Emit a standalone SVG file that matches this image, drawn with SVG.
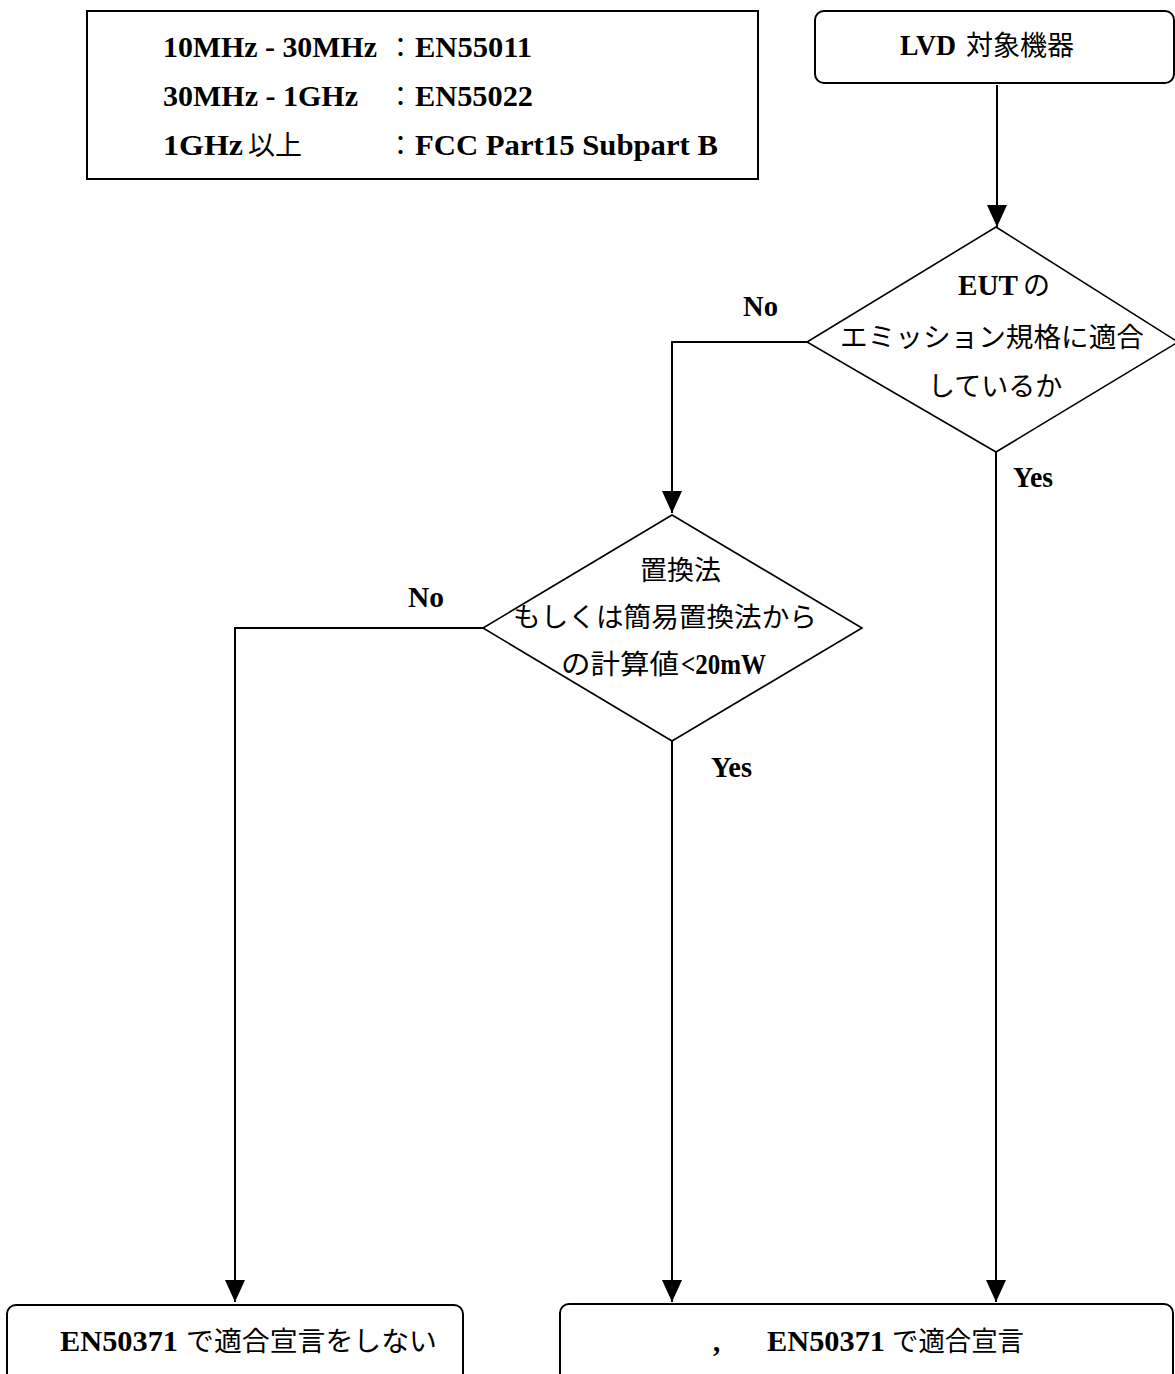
<svg xmlns="http://www.w3.org/2000/svg" width="1175" height="1374" viewBox="0 0 1175 1374">
<style>
.lat{font-family:"Liberation Serif","Noto Sans CJK JP",serif;font-weight:bold;font-size:29px;fill:#000}
.col{font-family:"Noto Sans CJK JP",sans-serif;font-weight:normal;font-size:27px;fill:#000}
.jp{font-family:"Noto Sans CJK JP","Noto Sans CJK SC",sans-serif;font-weight:normal;font-size:27px;fill:#000}
.box{fill:#fff;stroke:#000;stroke-width:2}
.dia{fill:#fff;stroke:#000;stroke-width:1.6}
.conn{fill:none;stroke:#000;stroke-width:2}
</style>
<defs>
<marker id="arr" markerUnits="userSpaceOnUse" viewBox="0 0 22 20" refX="22" refY="10" markerWidth="22" markerHeight="20" orient="auto">
<path d="M0,0 L22,10 L0,20 z" fill="#000"/>
</marker>
</defs>
<rect width="1175" height="1374" fill="#fff"/>

<g id="connectors">
<path class="conn" d="M997,85 V227" marker-end="url(#arr)"/>
<path class="conn" d="M807,342 H672 V513" marker-end="url(#arr)"/>
<path class="conn" d="M996,452 V1302" marker-end="url(#arr)"/>
<path class="conn" d="M483,628 H235 V1302" marker-end="url(#arr)"/>
<path class="conn" d="M672,741 V1302" marker-end="url(#arr)"/>
</g>

<g id="legend">
<rect class="box" x="87" y="11" width="671" height="168"/>
<text class="lat" x="163" y="57" textLength="214" lengthAdjust="spacingAndGlyphs">10MHz - 30MHz</text>
<text class="col" x="387" y="57">：</text>
<text class="lat" x="415" y="57" textLength="117" lengthAdjust="spacingAndGlyphs">EN55011</text>
<text class="lat" x="163" y="106" textLength="195" lengthAdjust="spacingAndGlyphs">30MHz - 1GHz</text>
<text class="col" x="387" y="106">：</text>
<text class="lat" x="415" y="106" textLength="118" lengthAdjust="spacingAndGlyphs">EN55022</text>
<text class="lat" x="163" y="155" textLength="80" lengthAdjust="spacingAndGlyphs">1GHz</text>
<text class="jp" x="248" y="155">以上</text>
<text class="col" x="387" y="155">：</text>
<text class="lat" x="415" y="155" textLength="303" lengthAdjust="spacingAndGlyphs">FCC Part15 Subpart B</text>
</g>

<g id="lvd">
<rect class="box" x="815" y="11" width="359" height="72" rx="9"/>
<text class="lat" x="900" y="55" textLength="56" lengthAdjust="spacingAndGlyphs">LVD</text>
<text class="jp" x="966" y="55">対象機器</text>
</g>

<g id="decision1">
<polygon class="dia" points="996,227 1178,342 996,452 807,342"/>
<text class="lat" x="958" y="295" textLength="60" lengthAdjust="spacingAndGlyphs">EUT</text>
<text class="jp" x="1023" y="295">の</text>
<text class="jp" x="840" y="347" textLength="304" lengthAdjust="spacingAndGlyphs">エミッション規格に適合</text>
<text class="jp" x="928" y="396">しているか</text>
</g>

<g id="decision2">
<polygon class="dia" points="672,515 862,628 672,741 483,628"/>
<text class="jp" x="640" y="580">置換法</text>
<text class="jp" x="513" y="627" textLength="304" lengthAdjust="spacingAndGlyphs">もしくは簡易置換法から</text>
<text class="jp" x="561" y="674" textLength="118" lengthAdjust="spacingAndGlyphs">の計算値</text>
<text class="lat" x="681" y="674" textLength="85" lengthAdjust="spacingAndGlyphs">&lt;20mW</text>
</g>

<g id="labels">
<text class="lat" x="743" y="316" textLength="35" lengthAdjust="spacingAndGlyphs">No</text>
<text class="lat" x="1013" y="487" textLength="40" lengthAdjust="spacingAndGlyphs">Yes</text>
<text class="lat" x="408" y="607" textLength="36" lengthAdjust="spacingAndGlyphs">No</text>
<text class="lat" x="711" y="777" textLength="41" lengthAdjust="spacingAndGlyphs">Yes</text>
</g>

<g id="reject">
<rect class="box" x="7" y="1305" width="456" height="100" rx="9"/>
<text class="lat" x="60" y="1351" textLength="118" lengthAdjust="spacingAndGlyphs">EN50371</text>
<text class="jp" x="186" y="1351" textLength="251" lengthAdjust="spacingAndGlyphs">で適合宣言をしない</text>
</g>

<g id="accept">
<rect class="box" x="560" y="1304" width="613" height="100" rx="9"/>
<text class="lat" x="713" y="1351">,</text>
<text class="lat" x="767" y="1351" textLength="118" lengthAdjust="spacingAndGlyphs">EN50371</text>
<text class="jp" x="892" y="1351" textLength="132" lengthAdjust="spacingAndGlyphs">で適合宣言</text>
</g>
</svg>
